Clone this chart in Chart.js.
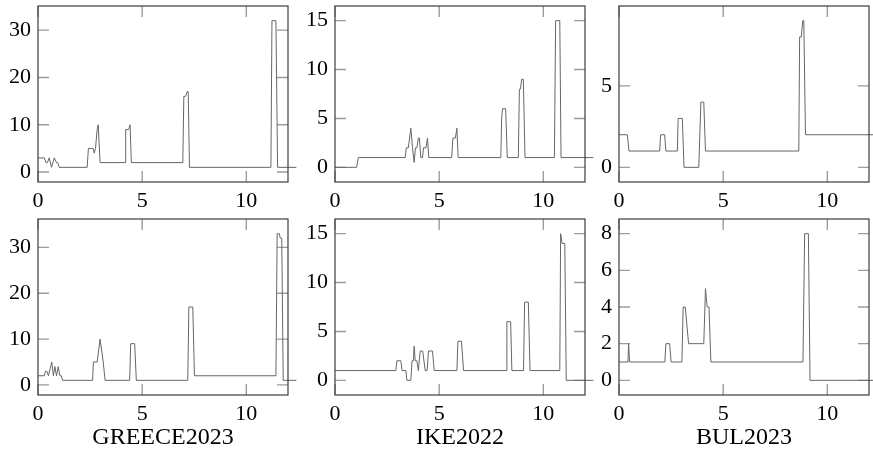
<!DOCTYPE html>
<html>
<head>
<meta charset="utf-8">
<script src="https://cdn.jsdelivr.net/npm/chart.js@4.4.1/dist/chart.umd.min.js"></script>
<style>
  html, body { margin: 0; padding: 0; background: #fff; width: 873px; height: 461px; overflow: hidden; position: relative; }
  canvas { position: absolute; }
  .ttl { position: absolute; font-family: "Liberation Serif", "DejaVu Serif", serif; font-size: 24px; line-height: 24px;
         color: #000; text-align: center; width: 250px; white-space: nowrap; }
</style>
</head>
<body>
<script>
// ---- data ---------------------------------------------------------------
const columnTitles = ['GREECE2023', 'IKE2022', 'BUL2023'];
const xTicks = [0, 5, 10];

const greeceTopX = [0, 0.3, 0.38, 0.45, 0.54, 0.65, 0.78, 0.89, 0.95, 1.02, 2.36, 2.42, 2.65, 2.7, 2.76, 2.84, 2.89, 2.98,
  4.18, 4.21, 4.35, 4.42, 4.48, 6.95, 7.0, 7.08, 7.16, 7.21, 7.27, 11.18, 11.23, 11.42, 11.5, 12.4];
const greeceTopY = [3, 3, 2, 2, 3, 1, 3, 2, 2, 1, 1, 5, 5, 4, 5, 9, 10, 2,
  2, 9, 9, 10, 2, 2, 16, 16, 17, 17, 1, 1, 32, 32, 1, 1];

const ikeTopX = [0, 1.04, 1.12, 3.37, 3.42, 3.52, 3.64, 3.72, 3.8, 3.86, 3.93, 4.0, 4.05, 4.12, 4.2, 4.25, 4.37, 4.44, 4.5,
  5.6, 5.66, 5.78, 5.85, 5.91, 7.96, 8.0, 8.04, 8.19, 8.27, 8.8, 8.85, 8.9, 8.96, 9.04, 9.12, 10.53, 10.59, 10.79, 10.85, 12.4];
const ikeTopY = [0, 0, 1, 1, 2, 2, 4, 2, 0.5, 2, 2, 3, 3, 1, 1, 2, 2, 3, 1,
  1, 3, 3, 4, 1, 1, 5, 6, 6, 1, 1, 8, 8, 9, 9, 1, 1, 15, 15, 1, 1];

const bulTopX = [0, 0.4, 0.48, 1.95, 2.0, 2.19, 2.25, 2.8, 2.84, 3.04, 3.12, 3.83, 3.93, 4.07, 4.15,
  8.63, 8.67, 8.75, 8.82, 8.87, 8.95, 12.4];
const bulTopY = [2, 2, 1, 1, 2, 2, 1, 1, 3, 3, 0, 0, 4, 4, 1, 1, 8, 8, 9, 9, 2, 2];

const greeceBottomX = [0, 0.3, 0.36, 0.42, 0.5, 0.66, 0.74, 0.81, 0.89, 0.97, 1.05, 1.12, 1.18, 2.62, 2.66, 2.84, 2.98, 3.13, 3.16, 3.22,
  4.4, 4.45, 4.64, 4.72, 7.19, 7.24, 7.43, 7.51, 11.42, 11.48, 11.58, 11.63, 11.7, 11.77, 12.4];
const greeceBottomY = [2, 2, 3, 3, 2, 5, 2, 4, 2, 4, 2, 2, 1, 1, 5, 5, 10, 5, 5, 1,
  1, 9, 9, 1, 1, 17, 17, 2, 2, 33, 33, 32, 32, 1, 1];

const ikeBottomX = [0, 2.92, 2.97, 3.16, 3.22, 3.4, 3.45, 3.64, 3.7, 3.76, 3.8, 3.85, 3.93, 4.0, 4.09, 4.21, 4.33, 4.42, 4.49, 4.68, 4.76,
  5.85, 5.9, 6.07, 6.17, 8.21, 8.25, 8.43, 8.49, 9.05, 9.1, 9.28, 9.36, 10.79, 10.83, 10.9, 11.03, 11.1, 12.4];
const ikeBottomY = [1, 1, 2, 2, 1, 1, 0, 0, 2, 2, 3.5, 2, 2, 1, 3, 3, 1, 1, 3, 3, 1,
  1, 4, 4, 1, 1, 6, 6, 1, 1, 8, 8, 1, 1, 15, 14, 14, 0, 0];

const bulBottomX = [0, 0.43, 0.46, 0.51, 2.2, 2.25, 2.43, 2.5, 3.02, 3.08, 3.18, 3.26, 3.34, 4.07, 4.15, 4.23, 4.32, 4.41,
  8.83, 8.91, 9.09, 9.17, 12.4];
const bulBottomY = [1, 1, 2, 1, 1, 2, 2, 1, 1, 4, 4, 3, 2, 2, 5, 4, 4, 1, 1, 8, 8, 0, 0];

const greeceYTicks = [0, 10, 20, 30];
const ikeYTicks = [0, 5, 10, 15];
const bulTopYTicks = [0, 5];
const bulBottomYTicks = [0, 2, 4, 6, 8];

// ---- layout & style -----------------------------------------------------
const FONT = '"Liberation Serif", "DejaVu Serif", serif';
const BOX_W = 250, BOX_H = 176;
const PAD_L = 38, PAD_T = 6;          // room for y labels / above the frame
const CW = 320, CH = 216;             // canvas size per panel
const XAX_H = 30;                     // x tick label band
const LINE_COLOR = '#666666';
const TICK_COLOR = '#9c9c9c';
const FRAME_COLOR = '#3c3c3c';
const TICK_LEN = 11;

const colLeft = [38, 335, 619];
const rowTop = [6, 219];

const panels = [
  { col: 0, row: 0, xs: greeceTopX, ys: greeceTopY, yTicks: greeceYTicks },
  { col: 1, row: 0, xs: ikeTopX, ys: ikeTopY, yTicks: ikeYTicks },
  { col: 2, row: 0, xs: bulTopX, ys: bulTopY, yTicks: bulTopYTicks },
  { col: 0, row: 1, xs: greeceBottomX, ys: greeceBottomY, yTicks: greeceYTicks },
  { col: 1, row: 1, xs: ikeBottomX, ys: ikeBottomY, yTicks: ikeYTicks },
  { col: 2, row: 1, xs: bulBottomX, ys: bulBottomY, yTicks: bulBottomYTicks },
];

// inward tick marks on all four sides, then the frame
const framePlugin = {
  id: 'frame',
  beforeDatasetsDraw(chart) {
    const { ctx, chartArea: a, scales: { x, y } } = chart;
    ctx.save();
    ctx.strokeStyle = TICK_COLOR;
    ctx.lineWidth = 1.4;
    ctx.beginPath();
    x.ticks.forEach(t => {
      const px = x.getPixelForValue(t.value);
      ctx.moveTo(px, a.top); ctx.lineTo(px, a.top + TICK_LEN);
      ctx.moveTo(px, a.bottom); ctx.lineTo(px, a.bottom - TICK_LEN);
    });
    y.ticks.forEach(t => {
      const py = y.getPixelForValue(t.value);
      ctx.moveTo(a.left, py); ctx.lineTo(a.left + TICK_LEN, py);
      ctx.moveTo(a.right, py); ctx.lineTo(a.right - TICK_LEN, py);
    });
    ctx.stroke();
    ctx.restore();
  },
  afterDatasetsDraw(chart) {
    const { ctx, chartArea: a } = chart;
    ctx.save();
    ctx.strokeStyle = FRAME_COLOR;
    ctx.lineWidth = 1.2;
    ctx.strokeRect(a.left, a.top, a.right - a.left, a.bottom - a.top);
    ctx.restore();
  }
};

function makePanel(p) {
  const left = colLeft[p.col], top = rowTop[p.row];
  const cv = document.createElement('canvas');
  cv.width = CW; cv.height = CH;
  cv.style.left = (left - PAD_L) + 'px';
  cv.style.top = (top - PAD_T) + 'px';
  document.body.appendChild(cv);

  // axis limits widened by 10% of the data span, as in the source plots
  const lo = Math.min(...p.ys), hi = Math.max(...p.ys);
  const pad = 0.1 * (hi - lo);

  new Chart(cv, {
    type: 'line',
    data: {
      datasets: [{
        data: p.xs.map((v, i) => ({ x: v, y: p.ys[i] })),
        borderColor: LINE_COLOR,
        borderWidth: 1,
        pointRadius: 0,
        tension: 0,
        fill: false,
        clip: false
      }]
    },
    options: {
      responsive: false,
      animation: false,
      devicePixelRatio: 1,
      events: [],
      layout: { padding: { left: 0, top: PAD_T, right: CW - PAD_L - BOX_W, bottom: CH - PAD_T - BOX_H - XAX_H } },
      plugins: { legend: { display: false }, tooltip: { enabled: false } },
      scales: {
        x: {
          type: 'linear', min: 0, max: 12,
          grid: { display: false, drawTicks: false },
          border: { display: false },
          ticks: { color: '#000', font: { family: FONT, size: 22 }, padding: 6, maxRotation: 0, autoSkip: false },
          afterBuildTicks: s => { s.ticks = xTicks.map(v => ({ value: v })); },
          afterFit: s => { s.height = XAX_H; s.paddingLeft = 0; s.paddingRight = 0; }
        },
        y: {
          type: 'linear', min: lo - pad, max: hi + pad,
          grid: { display: false, drawTicks: false },
          border: { display: false },
          ticks: { color: '#000', font: { family: FONT, size: 22 }, padding: 7, autoSkip: false },
          afterBuildTicks: s => { s.ticks = p.yTicks.map(v => ({ value: v })); },
          afterFit: s => { s.width = PAD_L; s.paddingTop = 0; s.paddingBottom = 0; }
        }
      }
    },
    plugins: [framePlugin]
  });
}

panels.forEach(makePanel);

columnTitles.forEach((t, i) => {
  const d = document.createElement('div');
  d.className = 'ttl';
  d.textContent = t;
  d.style.left = colLeft[i] + 'px';
  d.style.top = '424px';
  document.body.appendChild(d);
});
</script>
</body>
</html>
